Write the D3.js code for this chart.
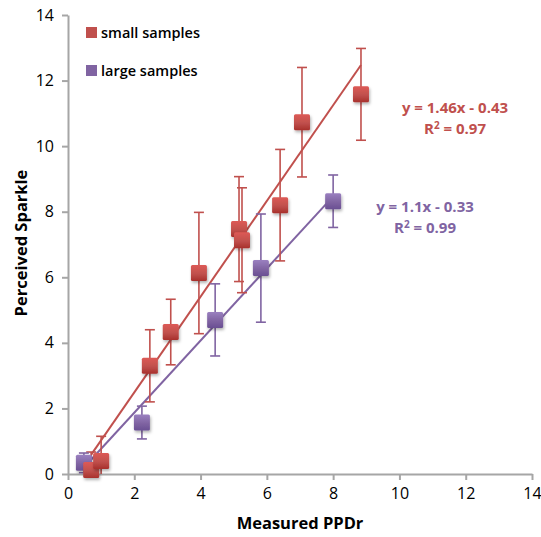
<!DOCTYPE html>
<html>
<head>
<meta charset="utf-8">
<script src="https://cdn.jsdelivr.net/npm/d3@7"></script>
<style>
  body { margin: 0; background: #fff; }
  text { font-family: "Open Sans", Lato, sans-serif; }
</style>
</head>
<body>
<div id="chart"></div>
<script>
// series: small samples (red) and large samples (purple)
var smallX   = [0.7, 1.0, 2.47, 3.1, 3.95, 5.16, 5.25, 6.4, 7.06, 8.84];
var smallY   = [0.12, 0.4, 3.3, 4.33, 6.13, 7.47, 7.13, 8.2, 10.73, 11.58];
var smallErr = [0.55, 0.75, 1.1, 1.0, 1.85, 1.6, 1.6, 1.7, 1.67, 1.4];

var largeX   = [0.48, 2.23, 4.44, 5.82, 8.0];
var largeY   = [0.34, 1.57, 4.7, 6.28, 8.32];
var largeErr = [0.3, 0.5, 1.1, 1.65, 0.8];

var seriesNames = ["small samples", "large samples"];
var slopes = [1.46, 1.1];
var intercepts = [-0.43, -0.33];
var r2 = ["0.97", "0.99"];
var ticks = [0, 2, 4, 6, 8, 10, 12, 14];

var colors = ["#c0504d", "#8064a2"];
var lightC = ["#dd5a55", "#9a80c0"];
var darkC = ["#a8302c", "#6a4f93"];

var W = 541, H = 537;
var svg = d3.select("#chart").append("svg")
    .attr("width", W)
    .attr("height", H);

var x = d3.scaleLinear().domain([0, 14]).range([68, 532]);
var y = d3.scaleLinear().domain([0, 14]).range([474, 15]);

// gradients + shadow for the squares
var defs = svg.append("defs");
colors.forEach(function(c, i) {
    var g = defs.append("linearGradient")
        .attr("id", "grad" + i)
        .attr("x1", 0).attr("y1", 0).attr("x2", 0).attr("y2", 1);
    g.append("stop").attr("offset", "0%").attr("stop-color", lightC[i]);
    g.append("stop").attr("offset", "55%").attr("stop-color", colors[i]);
    g.append("stop").attr("offset", "100%").attr("stop-color", darkC[i]);
});
var f = defs.append("filter").attr("id", "shadow")
    .attr("x", "-50%").attr("y", "-50%").attr("width", "200%").attr("height", "200%");
f.append("feDropShadow").attr("dx", 1).attr("dy", 2).attr("stdDeviation", 1.5)
    .attr("flood-color", "#000").attr("flood-opacity", 0.3);

// axes
var xAxis = svg.append("g")
    .attr("transform", "translate(0," + y(0) + ")")
    .call(d3.axisBottom(x).tickValues(ticks).tickSize(6).tickPadding(5).tickSizeOuter(0));
var yAxis = svg.append("g")
    .attr("transform", "translate(" + x(0) + ",0)")
    .call(d3.axisLeft(y).tickValues(ticks).tickSize(6).tickPadding(8).tickSizeOuter(0));

[xAxis, yAxis].forEach(function(a) {
    a.select(".domain").attr("stroke", "#a6a6a6").attr("stroke-width", 2);
    a.selectAll(".tick line").attr("stroke", "#a6a6a6").attr("stroke-width", 2);
    a.selectAll(".tick text")
        .attr("fill", "#000")
        .style("font-size", "16px")
        .style("font-family", "'Open Sans', Lato, sans-serif");
});
xAxis.selectAll(".tick text").attr("dy", "0.85em");

// axis titles
svg.append("text")
    .attr("x", 300)
    .attr("y", 529)
    .attr("text-anchor", "middle")
    .style("font-size", "16.5px")
    .style("font-weight", "bold")
    .text("Measured PPDr");

svg.append("text")
    .attr("transform", "translate(27," + 243 + ") rotate(-90)")
    .attr("text-anchor", "middle")
    .style("font-size", "16.5px")
    .style("font-weight", "bold")
    .text("Perceived Sparkle");

var series = [
    {xs: smallX, ys: smallY, err: smallErr},
    {xs: largeX, ys: largeY, err: largeErr}
];

// trend lines
series.forEach(function(s, i) {
    var x0 = d3.min(s.xs), x1 = d3.max(s.xs);
    svg.append("line")
        .attr("x1", x(x0)).attr("y1", y(slopes[i] * x0 + intercepts[i]))
        .attr("x2", x(x1)).attr("y2", y(slopes[i] * x1 + intercepts[i]))
        .attr("stroke", colors[i])
        .attr("stroke-width", 2);
});

// error bars
series.forEach(function(s, i) {
    var pts = s.xs.map(function(d, j) { return {x: d, y: s.ys[j], e: s.err[j]}; });
    var g = svg.append("g").attr("stroke", colors[i]).attr("stroke-width", 1.6);
    g.selectAll("line.bar").data(pts).enter().append("line")
        .attr("x1", function(d) { return x(d.x); })
        .attr("x2", function(d) { return x(d.x); })
        .attr("y1", function(d) { return y(Math.max(0, d.y - d.e)); })
        .attr("y2", function(d) { return y(d.y + d.e); });
    g.selectAll("line.top").data(pts).enter().append("line")
        .attr("x1", function(d) { return x(d.x) - 5; })
        .attr("x2", function(d) { return x(d.x) + 5; })
        .attr("y1", function(d) { return y(d.y + d.e); })
        .attr("y2", function(d) { return y(d.y + d.e); });
    g.selectAll("line.bot").data(pts.filter(function(d) { return d.y - d.e > 0; })).enter().append("line")
        .attr("x1", function(d) { return x(d.x) - 5; })
        .attr("x2", function(d) { return x(d.x) + 5; })
        .attr("y1", function(d) { return y(d.y - d.e); })
        .attr("y2", function(d) { return y(d.y - d.e); });
});

// markers
var ms = 16;
[1, 0].forEach(function(i) {
    var s = series[i];
    svg.append("g").selectAll("rect")
        .data(s.xs.map(function(d, j) { return {x: d, y: s.ys[j]}; }))
        .enter().append("rect")
        .attr("x", function(d) { return x(d.x) - ms / 2; })
        .attr("y", function(d) { return y(d.y) - ms / 2; })
        .attr("width", ms)
        .attr("height", ms)
        .attr("rx", 1.5)
        .attr("fill", "url(#grad" + i + ")")
        .attr("filter", "url(#shadow)");
});

// legend
seriesNames.forEach(function(n, i) {
    svg.append("rect")
        .attr("x", 86).attr("y", 27 + i * 38)
        .attr("width", 11).attr("height", 11)
        .attr("fill", colors[i]);
    svg.append("text")
        .attr("x", 101).attr("y", 38 + i * 38)
        .style("font-size", "14.5px")
        .style("font-weight", "600")
        .text(n);
});

// equations
var eqPos = [{cx: 455, y: 113}, {cx: 425, y: 212}];
slopes.forEach(function(m, i) {
    svg.append("text")
        .attr("x", eqPos[i].cx).attr("y", eqPos[i].y)
        .attr("text-anchor", "middle")
        .attr("fill", colors[i])
        .style("font-size", "15px")
        .style("font-weight", "bold")
        .text("y = " + m + "x - " + Math.abs(intercepts[i]));
    var r = svg.append("text")
        .attr("x", eqPos[i].cx).attr("y", eqPos[i].y + 21)
        .attr("text-anchor", "middle")
        .attr("fill", colors[i])
        .style("font-size", "15px")
        .style("font-weight", "bold");
    r.append("tspan").text("R");
    r.append("tspan").attr("dy", -5).style("font-size", "10px").text("2");
    r.append("tspan").attr("dy", 5).text(" = " + r2[i]);
});
</script>
</body>
</html>
